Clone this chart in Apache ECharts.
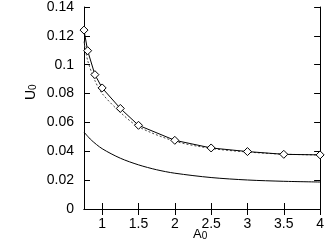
<!DOCTYPE html>
<html><head><meta charset="utf-8">
<script src="https://cdn.jsdelivr.net/npm/echarts@6/dist/echarts.min.js"></script>
<style>html,body{margin:0;padding:0;background:#fff}#c{width:327px;height:247px}</style>
</head><body><div id="c"></div>
<script>
var xTicks = [1, 1.5, 2, 2.5, 3, 3.5, 4];
var yTicks = [0, 0.02, 0.04, 0.06, 0.08, 0.1, 0.12, 0.14];
var diamondX = [0.75, 0.8, 0.9, 1.0, 1.25, 1.5, 2, 2.5, 3, 3.5, 4];
var diamondY = [0.124, 0.1097, 0.0931, 0.0839, 0.0697, 0.058, 0.0476, 0.0423, 0.0398, 0.0379, 0.0375];
var dashedX = [0.75, 0.8, 0.9, 1.0, 1.25, 1.5, 2, 2.5, 3, 3.5, 4];
var dashedY = [0.116, 0.103, 0.089, 0.080, 0.067, 0.057, 0.047, 0.042, 0.0395, 0.038, 0.0375];
var lowerX = [0.75, 0.85, 1.0, 1.25, 1.5, 1.75, 2, 2.5, 3, 3.5, 4];
var lowerY = [0.0533, 0.0478, 0.0418, 0.0352, 0.0306, 0.0272, 0.0248, 0.0218, 0.0201, 0.0192, 0.0187];

function pairs(xs, ys){ return xs.map(function(x,i){ return [x, ys[i]]; }); }
var font = 'Liberation Sans, Arial, sans-serif';
var chart = echarts.init(document.getElementById('c'), null, {renderer:'canvas'});
var axisLine = {show:true, lineStyle:{color:'#000', width:1}};
chart.setOption({
  animation:false,
  grid:{left:84, right:5, top:6, bottom:38},
  xAxis:[{
    type:'value', min:0.75, max:4, position:'bottom',
    axisLine:axisLine,
    axisTick:{show:true, inside:true, length:6, customValues:xTicks, lineStyle:{color:'#000'}},
    axisLabel:{show:true, customValues:xTicks, color:'#000', fontFamily:font, fontSize:14, margin:8},
    splitLine:{show:false}
  },{
    type:'value', min:0.75, max:4, position:'top',
    axisLine:axisLine,
    axisTick:{show:true, inside:true, length:6, customValues:xTicks, lineStyle:{color:'#000'}},
    axisLabel:{show:false}, splitLine:{show:false}
  }],
  yAxis:[{
    type:'value', min:0, max:0.14, interval:0.02, position:'left',
    axisLine:axisLine,
    axisTick:{show:true, inside:true, length:6, lineStyle:{color:'#000'}},
    axisLabel:{color:'#000', fontFamily:font, fontSize:14, margin:10},
    splitLine:{show:false}
  },{
    type:'value', min:0, max:0.14, interval:0.02, position:'right',
    axisLine:axisLine,
    axisTick:{show:true, inside:true, length:6, lineStyle:{color:'#000'}},
    axisLabel:{show:false}, splitLine:{show:false}
  }],
  graphic:[
    {type:'text', left:193, top:228, style:{text:'{a|A}{b|0}', rich:{a:{fontSize:13, fontFamily:font, fill:'#000'}, b:{fontSize:10, fontFamily:font, fill:'#000', padding:[4,0,0,0]}}}},
    {type:'text', x:24, y:100, rotation:Math.PI/2, style:{text:'{a|U}{b|0}', rich:{a:{fontSize:14, fontFamily:font, fill:'#000'}, b:{fontSize:10, fontFamily:font, fill:'#000', padding:[4,0,0,0]}}}}
  ],
  series:[
    {type:'line', data:pairs(lowerX, lowerY), smooth:0.3, symbol:'none', lineStyle:{color:'#000', width:1}},
    {type:'line', data:pairs(dashedX, dashedY), smooth:0.3, symbol:'none', lineStyle:{color:'#444', width:1, type:[2,2]}},
    {type:'line', data:pairs(diamondX, diamondY), symbol:'diamond', symbolSize:[8,8], showAllSymbol:true,
     itemStyle:{color:'#fff', borderColor:'#000', borderWidth:1}, lineStyle:{color:'#000', width:1}}
  ]
});
</script></body></html>
